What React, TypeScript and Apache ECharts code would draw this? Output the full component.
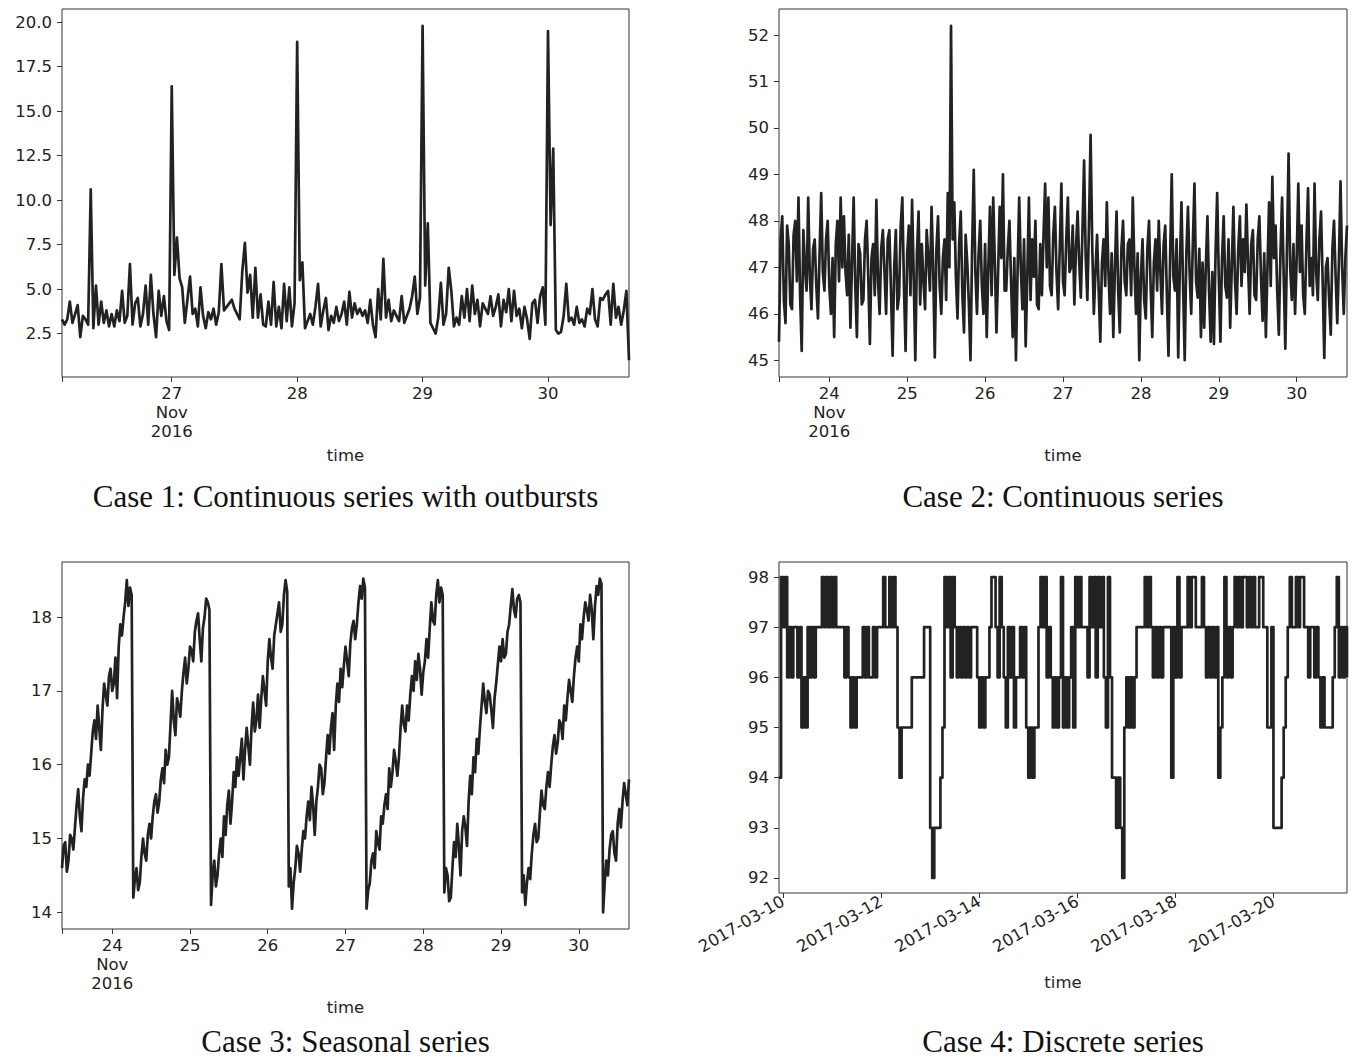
import React, { useEffect, useRef } from "react";
import * as echarts from "echarts";

// ---------- DATA ----------
// Case 1: half-hourly samples starting 26 Nov 2016 03:00 (x in day-of-month)
const P1_START_DAY = 26 + 3 / 24;
const P1_STEP_DAY = 0.5 / 24;
const p1Values = [
  3.3, 3.0, 3.3, 4.3, 3.1, 3.6, 4.1, 2.3, 3.5, 3.3,
  3.0, 10.6, 2.8, 5.2, 3.0, 4.3, 3.1, 3.8, 2.9, 3.6,
  2.9, 3.8, 3.2, 4.9, 3.1, 3.5, 6.4, 3.0, 4.2, 4.5,
  2.9, 3.6, 5.2, 3.0, 5.8, 3.6, 2.3, 4.9, 3.5, 4.6,
  3.2, 2.7, 16.4, 5.8, 7.9, 5.6, 5.1, 3.1, 4.4, 5.7,
  3.6, 3.9, 2.9, 5.1, 3.5, 2.8, 3.7, 3.3, 3.9, 3.0,
  3.7, 6.4, 3.8, 4.0, 4.2, 4.4, 3.9, 3.6, 3.3, 6.0,
  7.6, 4.8, 5.8, 3.4, 6.2, 3.4, 4.7, 3.0, 2.9, 4.3,
  3.0, 5.4, 2.9, 4.0, 2.8, 5.3, 3.2, 5.1, 2.9, 4.2,
  18.9, 5.5, 6.5, 2.8, 3.2, 3.6, 3.0, 4.0, 5.3, 2.9,
  3.8, 4.5, 2.7, 3.5, 3.1, 4.0, 3.2, 3.6, 4.3, 3.0,
  4.85, 3.4, 4.2, 3.6, 3.9, 3.5, 3.8, 3.1, 4.4, 3.0,
  2.3, 5.0, 3.3, 6.7, 3.4, 4.4, 3.2, 3.8, 3.5, 3.2,
  4.6, 3.1, 3.5, 3.9, 4.6, 5.7, 3.6, 4.5, 19.8, 5.2,
  8.7, 3.1, 2.8, 2.5, 3.4, 5.35, 3.0, 3.6, 6.2, 4.9,
  2.9, 3.4, 3.0, 4.6, 3.4, 5.0, 3.2, 5.2, 3.6, 4.4,
  2.9, 4.2, 3.9, 3.6, 4.6, 3.5, 4.0, 4.7, 2.9, 4.4,
  3.7, 5.0, 3.2, 4.9, 3.5, 3.9, 2.8, 4.0, 3.3, 2.2,
  4.2, 4.4, 3.1, 4.6, 5.1, 3.0, 19.5, 8.6, 12.9, 2.7,
  2.5, 2.6, 3.5, 5.3, 3.2, 3.4, 3.0, 4.0, 3.1, 3.3,
  2.9, 3.9, 3.6, 5.0, 3.3, 2.9, 4.5, 4.4, 4.7, 4.9,
  3.0, 5.3, 3.4, 4.0, 3.0, 3.8, 4.9, 1.0,
];

// Cases 2 and 3: half-hourly samples starting 23 Nov 2016 08:30
const P23_START_DAY = 23 + 8.5 / 24;
const P23_STEP_DAY = 0.5 / 24;
const p2Values = [
  45.4, 47.6, 48.1, 46.3, 45.8, 47.9, 47.5, 46.2, 46.1, 47.7, 48.0, 46.7, 48.5, 46.4, 45.2, 47.8, 47.0, 46.5, 48.5, 46.8,
  46.1, 47.4, 47.6, 46.6, 45.9, 47.3, 48.6, 46.9, 46.5, 47.6, 48.0, 46.6, 46.0, 47.2, 45.5, 47.5, 48.0, 46.7, 48.5, 47.0,
  48.1, 46.9, 46.4, 47.7, 45.7, 47.1, 48.5, 46.6, 45.5, 47.5, 47.3, 46.2, 46.3, 47.6, 48.0, 46.8, 45.35, 47.2, 47.5, 46.4,
  48.45, 46.7, 46.0, 47.4, 47.8, 46.9, 46.0, 47.6, 47.8, 46.5, 45.1, 47.0, 47.8, 46.1, 46.4, 47.9, 48.5, 46.6, 45.2, 47.3,
  47.9, 46.4, 48.45, 46.8, 45.0, 47.3, 48.2, 46.2, 47.5, 46.7, 46.1, 47.8, 47.2, 46.5, 48.3, 47.0, 45.06, 47.4, 48.1, 46.6,
  46.0, 47.2, 47.6, 46.3, 48.6, 47.0, 52.2, 47.6, 48.4, 46.8, 45.9, 47.5, 48.2, 46.4, 45.6, 47.7, 47.1, 46.2, 45.0, 47.4,
  49.1, 46.9, 46.0, 47.3, 48.0, 46.6, 46.0, 47.5, 45.5, 47.0, 48.3, 46.4, 48.5, 47.1, 45.6, 46.9, 48.3, 47.2, 49.0, 46.5,
  46.5, 47.4, 48.0, 46.7, 45.5, 47.2, 45.0, 46.9, 48.5, 47.0, 46.1, 47.6, 45.3, 46.8, 48.5, 46.3, 47.6, 46.8, 48.0, 46.2,
  46.1, 47.5, 46.4, 47.7, 48.8, 47.0, 48.5, 46.6, 46.4, 47.7, 48.3, 46.9, 46.1, 47.4, 48.8, 46.7, 46.4, 47.6, 48.5, 46.9,
  47.0, 47.9, 46.2, 47.4, 48.2, 47.1, 46.35, 47.8, 49.3, 47.2, 46.3, 47.9, 49.85, 47.5, 46.0, 46.9, 47.7, 46.5, 45.4, 47.1,
  47.6, 46.6, 48.4, 46.9, 46.0, 47.3, 45.5, 47.0, 48.2, 46.5, 45.6, 47.4, 48.0, 46.7, 46.4, 47.5, 47.6, 46.4, 48.5, 47.0,
  46.0, 47.3, 45.0, 46.8, 47.6, 46.3, 45.9, 47.4, 48.0, 46.6, 45.5, 47.1, 47.6, 46.5, 48.0, 46.9, 46.0, 47.5, 47.9, 46.4,
  45.1, 47.2, 49.0, 46.8, 46.5, 47.6, 45.06, 47.0, 48.4, 46.6, 45.0, 47.3, 48.3, 46.9, 46.0, 47.5, 48.8, 46.7, 46.35, 47.4,
  45.5, 47.1, 45.7, 47.0, 48.1, 46.5, 45.4, 46.9, 45.35, 47.3, 48.6, 46.8, 45.4, 47.2, 48.1, 46.6, 46.35, 47.6, 45.7, 47.0,
  48.3, 46.7, 46.0, 47.4, 48.1, 46.6, 47.6, 46.9, 48.35, 47.1, 46.0, 47.5, 47.8, 46.4, 46.3, 47.6, 48.1, 46.8, 45.85, 47.3,
  45.5, 47.0, 48.4, 46.6, 48.95, 47.2, 47.9, 46.5, 45.55, 47.3, 48.5, 46.8, 45.25, 47.4, 49.45, 47.0, 46.3, 47.5, 46.0, 47.2,
  48.8, 46.9, 47.9, 46.4, 46.0, 47.5, 48.7, 46.6, 47.2, 46.4, 48.8, 46.9, 46.3, 47.6, 48.2, 46.7, 45.05, 47.0, 47.2, 46.3,
  45.55, 47.4, 48.0, 46.8, 45.8, 47.1, 48.85, 47.0, 46.0, 47.2, 47.9,
];
const p3Values = [
  // ramp to 24 Nov morning
  14.6, 14.9, 14.95, 14.55, 14.7, 15.05, 15.0, 14.85, 15.15, 15.45, 15.67, 15.3, 15.1, 15.55, 15.8, 15.7,
  16.0, 15.85, 16.15, 16.45, 16.6, 16.35, 16.8, 16.5, 16.2, 16.75, 17.1, 16.95, 16.8, 17.2, 17.3, 17.0,
  17.1, 17.45, 16.9, 17.6, 17.9, 17.75, 18.0, 18.2, 18.5, 18.15, 18.4, 18.3,
  // 24 -> 25
  14.2, 14.45, 14.6, 14.3, 14.4, 14.75, 15.0, 14.8, 14.7, 15.05, 15.2, 15.0, 15.3, 15.5, 15.6, 15.35,
  15.5, 15.8, 15.95, 15.75, 16.2, 16.0, 16.1, 16.55, 17.0, 16.6, 16.4, 16.9, 16.8, 16.65, 17.0, 17.25,
  17.45, 17.1, 17.3, 17.6, 17.55, 17.4, 17.8, 17.95, 18.05, 17.7, 17.4, 17.85, 18.0, 18.25, 18.2, 18.1,
  // 25 -> 26
  14.1, 14.5, 14.7, 14.35, 14.5, 14.8, 15.0, 14.75, 15.3, 15.05, 15.45, 15.65, 15.2, 15.5, 15.9, 15.7,
  16.1, 15.85, 16.1, 16.35, 15.8, 16.2, 16.5, 16.25, 16.0, 16.5, 16.84, 16.45, 16.6, 16.95, 16.5, 16.9,
  17.2, 17.0, 16.8, 17.4, 17.7, 17.45, 17.3, 17.75, 17.9, 18.05, 18.2, 17.8, 17.9, 18.3, 18.5, 18.35,
  // 26 -> 27
  14.35, 14.6, 14.05, 14.4, 14.6, 14.9, 14.8, 14.55, 14.85, 15.1, 15.0, 15.3, 15.5, 15.25, 15.7, 15.45,
  15.05, 15.5, 15.7, 16.0, 15.95, 15.6, 15.75, 16.1, 16.4, 16.15, 16.5, 16.7, 16.2, 16.8, 17.1, 16.85,
  17.3, 17.05, 17.35, 17.6, 17.4, 17.2, 17.65, 17.85, 17.95, 17.7, 17.9, 18.2, 18.42, 18.25, 18.52, 18.4,
  // 27 -> 28
  14.05, 14.3, 14.4, 14.7, 14.8, 14.6, 15.1, 14.95, 14.85, 15.3, 15.2, 15.45, 15.6, 15.4, 15.95, 15.7,
  15.9, 16.2, 16.05, 15.85, 16.1, 16.5, 16.8, 16.55, 16.45, 16.8, 16.6, 16.95, 17.2, 17.0, 17.4, 17.15,
  17.5, 17.3, 16.95, 17.25, 17.4, 17.7, 17.45, 17.85, 18.2, 17.95, 17.9, 18.3, 18.5, 18.2, 18.4, 18.3,
  // 28 -> 29
  14.27, 14.6, 14.5, 14.15, 14.2, 14.6, 14.95, 14.75, 15.2, 14.9, 14.5, 15.1, 15.3, 15.15, 14.9, 15.5,
  15.85, 15.6, 16.1, 15.9, 16.35, 16.15, 16.5, 16.8, 17.1, 16.85, 16.7, 17.0, 16.95, 16.75, 16.5, 16.9,
  17.1, 17.35, 17.6, 17.4, 17.7, 17.45, 17.5, 17.8, 17.9, 18.15, 18.38, 18.1, 18.0, 18.25, 18.3, 18.2,
  // 29 -> 30
  14.27, 14.5, 14.1, 14.4, 14.6, 14.45, 14.8, 15.05, 15.2, 14.95, 15.0, 15.35, 15.65, 15.45, 15.4, 15.7,
  15.9, 15.7, 16.0, 16.25, 16.4, 16.15, 16.3, 16.6, 16.55, 16.35, 16.8, 16.6, 16.9, 17.15, 17.0, 16.85,
  17.2, 17.45, 17.6, 17.4, 17.9, 17.7, 18.0, 18.2, 18.1, 17.95, 18.3, 18.1, 17.7, 18.15, 18.42, 18.3,
  18.52, 18.45,
  // 30 Nov
  14.0, 14.4, 14.7, 14.5, 14.85, 15.05, 15.1, 14.8, 14.7, 15.2, 15.4, 15.15, 15.5, 15.75, 15.6, 15.45, 15.8,
];

// Case 4: hourly samples starting 9 Mar 2017 22:00 (x in day-of-month)
const P4_START_DAY = 9 + 22 / 24;
const P4_STEP_DAY = 1 / 24;
const p4Values = [
  94, 98, 97, 98, 96, 97, 96, 97, 97, 96,
  97, 95, 96, 95, 97, 96, 97, 96, 97, 97,
  97, 98, 97, 98, 97, 98, 97, 98, 97, 97,
  97, 97, 96, 97, 96, 95, 96, 95, 96, 96,
  96, 97, 96, 97, 96, 96, 97, 96, 97, 97,
  97, 98, 97, 97, 98, 97, 98, 97, 95, 94,
  95, 95, 95, 95, 95, 96, 96, 96, 96, 96,
  96, 97, 97, 97, 93, 92, 93, 93, 93, 94,
  95, 98, 97, 98, 96, 98, 97, 96, 97, 96,
  97, 96, 97, 96, 97, 97, 97, 96, 95, 96,
  95, 96, 96, 97, 98, 98, 97, 96, 98, 97,
  96, 95, 97, 96, 97, 95, 96, 96, 97, 96,
  97, 95, 94, 95, 94, 95, 95, 97, 98, 97,
  98, 96, 97, 96, 95, 96, 95, 96, 98, 95,
  96, 95, 96, 97, 95, 98, 97, 98, 97, 97,
  97, 96, 98, 97, 98, 96, 98, 97, 98, 96,
  95, 98, 96, 94, 94, 93, 94, 93, 92, 95,
  96, 95, 96, 95, 96, 97, 97, 97, 97, 98,
  97, 98, 97, 96, 97, 96, 97, 96, 97, 97,
  97, 97, 94, 97, 96, 98, 96, 97, 97, 97,
  98, 97, 98, 98, 97, 97, 97, 98, 97, 96,
  97, 96, 97, 96, 97, 94, 95, 96, 98, 96,
  97, 96, 97, 98, 97, 98, 97, 98, 98, 97,
  98, 97, 98, 97, 97, 98, 98, 97, 97, 95,
  95, 97, 93, 93, 93, 93, 94, 95, 96, 97,
  98, 97, 97, 98, 97, 98, 98, 97, 97, 96,
  97, 97, 96, 97, 96, 95, 96, 95, 95, 95,
  95, 96, 97, 98, 96, 97, 96, 97, 96,
];

// tick values
const p1XLabelDays = [27, 28, 29, 30];
const p23XLabelDays = [24, 25, 26, 27, 28, 29, 30];
const p4XLabelDays = [10, 12, 14, 16, 18, 20];
const p1YTicks = [2.5, 5, 7.5, 10, 12.5, 15, 17.5, 20];
const p2YTicks = [45, 46, 47, 48, 49, 50, 51, 52];
const p3YTicks = [14, 15, 16, 17, 18];
const p4YTicks = [92, 93, 94, 95, 96, 97, 98];

const captions = [
  "Case 1: Continuous series with outbursts",
  "Case 2: Continuous series",
  "Case 3: Seasonal series",
  "Case 4: Discrete series",
];

// ---------- LAYOUT / STYLE ----------
const GRIDS = [
  { left: 62, top: 9, width: 567, height: 368 },
  { left: 779, top: 9, width: 568, height: 368 },
  { left: 62, top: 562, width: 567, height: 367 },
  { left: 779, top: 562, width: 568, height: 331 },
];
const CAPTION_Y = [496, 496, 1041, 1041];
const INK = "#222222";
const FRAME = "#333333";
const TICK_FONT = "DejaVu Sans";
const TICK_SIZE = 16.5;

function toPairs(start: number, step: number, values: number[]) {
  return values.map((v, i) => [start + i * step, v]);
}
function padRange(values: number[]) {
  const lo = Math.min(...values);
  const hi = Math.max(...values);
  const pad = 0.05 * (hi - lo);
  return [lo - pad, hi + pad];
}

function xAxisOf(
  gridIndex: number,
  start: number,
  step: number,
  n: number,
  labelDays: number[],
  formatter: (v: number) => string,
  opts: { edgeTick: boolean; rotate?: number; nameGap: number; margin: number }
) {
  const min = start;
  const max = start + (n - 1) * step;
  return {
    type: "value",
    gridIndex,
    min,
    max,
    axisLine: { show: false },
    splitLine: { show: false },
    axisTick: {
      show: true,
      length: 5,
      lineStyle: { color: FRAME, width: 1 },
      customValues: opts.edgeTick ? [min, ...labelDays] : labelDays,
    },
    axisLabel: {
      customValues: labelDays,
      formatter,
      color: INK,
      fontFamily: TICK_FONT,
      fontSize: TICK_SIZE,
      lineHeight: 19,
      margin: opts.margin,
      rotate: opts.rotate || 0,
      hideOverlap: false,
      showMinLabel: true,
      showMaxLabel: true,
    },
    name: "time",
    nameLocation: "middle",
    nameGap: opts.nameGap,
    nameTextStyle: { color: INK, fontFamily: TICK_FONT, fontSize: TICK_SIZE },
  };
}

function yAxisOf(gridIndex: number, values: number[], ticks: number[], formatter: (v: number) => string) {
  const [min, max] = padRange(values);
  return {
    type: "value",
    gridIndex,
    min,
    max,
    axisLine: { show: false },
    splitLine: { show: false },
    axisTick: { show: true, length: 5, lineStyle: { color: FRAME, width: 1 }, customValues: ticks },
    axisLabel: {
      customValues: ticks,
      formatter,
      color: INK,
      fontFamily: TICK_FONT,
      fontSize: TICK_SIZE,
      margin: 10,
    },
  };
}

const novLabel = (first: number) => (v: number) =>
  Math.round(v) === first ? `${Math.round(v)}\nNov\n2016` : String(Math.round(v));
const marLabel = (v: number) => `2017-03-${String(Math.round(v)).padStart(2, "0")}`;

function buildOption() {
  const lineStyle = { color: INK, width: 2.7, join: "round", cap: "butt" };
  const series = [
    { data: toPairs(P1_START_DAY, P1_STEP_DAY, p1Values) },
    { data: toPairs(P23_START_DAY, P23_STEP_DAY, p2Values) },
    { data: toPairs(P23_START_DAY, P23_STEP_DAY, p3Values) },
    { data: toPairs(P4_START_DAY, P4_STEP_DAY, p4Values), step: "end" },
  ].map((s, i) => ({
    type: "line",
    xAxisIndex: i,
    yAxisIndex: i,
    showSymbol: false,
    symbol: "none",
    lineStyle,
    itemStyle: { color: INK },
    ...s,
  }));

  return {
    animation: false,
    backgroundColor: "#ffffff",
    grid: GRIDS.map((g) => ({
      ...g,
      show: true,
      borderColor: FRAME,
      borderWidth: 1,
      backgroundColor: "transparent",
      containLabel: false,
    })),
    xAxis: [
      xAxisOf(0, P1_START_DAY, P1_STEP_DAY, p1Values.length, p1XLabelDays, novLabel(27), { edgeTick: true, nameGap: 70, margin: 7 }),
      xAxisOf(1, P23_START_DAY, P23_STEP_DAY, p2Values.length, p23XLabelDays, novLabel(24), { edgeTick: true, nameGap: 70, margin: 7 }),
      xAxisOf(2, P23_START_DAY, P23_STEP_DAY, p3Values.length, p23XLabelDays, novLabel(24), { edgeTick: true, nameGap: 70, margin: 7 }),
      xAxisOf(3, P4_START_DAY, P4_STEP_DAY, p4Values.length, p4XLabelDays, marLabel, { edgeTick: false, rotate: 30, nameGap: 81, margin: 7 }),
    ],
    yAxis: [
      yAxisOf(0, p1Values, p1YTicks, (v) => v.toFixed(1)),
      yAxisOf(1, p2Values, p2YTicks, (v) => String(Math.round(v))),
      yAxisOf(2, p3Values, p3YTicks, (v) => String(Math.round(v))),
      yAxisOf(3, p4Values, p4YTicks, (v) => String(Math.round(v))),
    ],
    series,
    graphic: captions.map((text, i) => {
      const g = GRIDS[i];
      return {
        type: "text",
        x: g.left + g.width / 2,
        y: CAPTION_Y[i],
        style: {
          text,
          fill: "#111111",
          fontFamily: "Liberation Serif",
          fontSize: 31,
          textAlign: "center",
          textVerticalAlign: "middle",
        },
      };
    }),
  };
}

export default function App() {
  const ref = useRef<HTMLDivElement>(null);
  useEffect(() => {
    if (!ref.current) return;
    const chart = echarts.init(ref.current, undefined, { renderer: "svg" });
    chart.setOption(buildOption() as any);
    return () => chart.dispose();
  }, []);
  return (
    <div
      ref={ref}
      style={{ position: "fixed", left: 0, top: 0, width: 1352, height: 1059, background: "#fff" }}
    />
  );
}
